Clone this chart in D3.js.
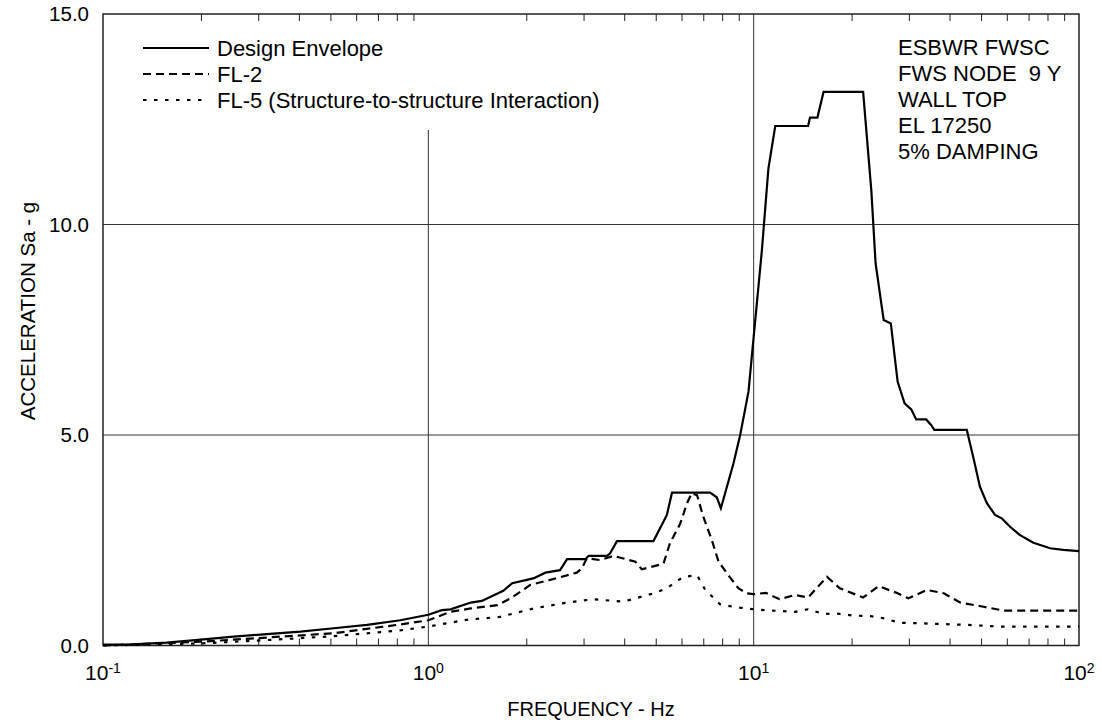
<!DOCTYPE html>
<html>
<head>
<meta charset="utf-8">
<script src="https://cdn.jsdelivr.net/npm/d3@7"></script>
<style>
  html, body { margin: 0; padding: 0; background: #fff; }
  svg { display: block; font-family: "Liberation Sans", Arial, sans-serif; }
</style>
</head>
<body>
<svg id="chart" width="1102" height="724"></svg>
<script>
// ---- Data ----
const envFreq = [0.1, 0.124, 0.157, 0.2, 0.252, 0.319, 0.404, 0.512, 0.648, 0.82, 1.0, 1.10, 1.17, 1.35, 1.46, 1.70, 1.81, 2.01, 2.11, 2.29, 2.54, 2.67, 3.04, 3.11, 3.54, 3.62, 3.80, 4.92, 5.28, 5.41, 5.61, 7.35, 7.7, 7.93, 8.67, 9.09, 9.64, 10.0, 10.6, 11.1, 11.65, 14.7, 14.9, 15.7, 16.4, 21.7, 23.0, 23.7, 24.6, 25.1, 26.4, 27.7, 29.1, 30.5, 31.6, 33.9, 35.1, 35.9, 45.2, 47.3, 49.6, 52.1, 55.2, 57.9, 61.4, 65.9, 72.4, 81.5, 89.5, 100];
const envVal  = [0.02, 0.03, 0.07, 0.14, 0.21, 0.27, 0.33, 0.41, 0.49, 0.60, 0.73, 0.84, 0.86, 1.02, 1.06, 1.30, 1.48, 1.56, 1.60, 1.73, 1.79, 2.05, 2.05, 2.13, 2.13, 2.19, 2.48, 2.48, 2.94, 3.10, 3.63, 3.63, 3.52, 3.26, 4.33, 5.0, 6.03, 7.33, 9.39, 11.33, 12.34, 12.34, 12.54, 12.54, 13.15, 13.15, 10.8, 9.08, 8.2, 7.73, 7.65, 6.27, 5.75, 5.61, 5.37, 5.37, 5.24, 5.12, 5.12, 4.48, 3.77, 3.38, 3.10, 3.02, 2.82, 2.62, 2.44, 2.31, 2.27, 2.24];

const fl2Freq = [0.1, 0.2, 0.32, 0.51, 0.82, 1.0, 1.17, 1.35, 1.63, 1.79, 2.06, 2.37, 2.86, 2.96, 3.07, 3.37, 3.71, 4.33, 4.53, 5.28, 5.53, 5.95, 6.24, 6.45, 6.7, 7.0, 7.44, 7.8, 8.36, 8.97, 9.5, 10.0, 10.9, 12.0, 13.4, 14.7, 16.8, 18.4, 21.7, 24.2, 27.5, 29.9, 34.1, 38.4, 43.1, 50.9, 58.5, 100];
const fl2Val  = [0.0, 0.09, 0.19, 0.29, 0.50, 0.60, 0.80, 0.88, 0.96, 1.12, 1.44, 1.56, 1.73, 1.83, 2.07, 2.03, 2.13, 1.99, 1.81, 1.94, 2.43, 2.90, 3.38, 3.62, 3.57, 3.06, 2.50, 1.99, 1.67, 1.36, 1.24, 1.22, 1.25, 1.10, 1.20, 1.14, 1.63, 1.36, 1.14, 1.41, 1.25, 1.12, 1.32, 1.24, 1.02, 0.92, 0.83, 0.83];

const fl5Freq = [0.1, 0.2, 0.32, 0.51, 0.82, 1.0, 1.31, 1.66, 2.11, 2.67, 3.22, 3.97, 4.93, 5.41, 6.08, 6.7, 7.1, 7.88, 8.66, 9.7, 10.8, 12.0, 13.4, 14.7, 16.4, 18.0, 20.3, 22.8, 25.0, 28.1, 31.7, 45.2, 57.0, 100];
const fl5Val  = [0.0, 0.05, 0.13, 0.22, 0.36, 0.45, 0.61, 0.68, 0.88, 1.02, 1.10, 1.04, 1.24, 1.36, 1.63, 1.67, 1.32, 0.98, 0.92, 0.87, 0.84, 0.82, 0.80, 0.86, 0.75, 0.76, 0.71, 0.70, 0.65, 0.54, 0.53, 0.49, 0.45, 0.45];

const seriesNames = ["Design Envelope", "FL-2", "FL-5 (Structure-to-structure Interaction)"];
const yTicks = [0, 5, 10, 15];
const xDecades = [0.1, 1, 10, 100];
const xDecadeExp = ["-1", "0", "1", "2"];
const noteLines = ["ESBWR FWSC", "FWS NODE  9 Y", "WALL TOP", "EL 17250", "5% DAMPING"];

// ---- Layout ----
const L = 103, R = 1079, T = 14, B = 645.5;
const svg = d3.select("#chart");
const x = d3.scaleLog().domain([0.1, 100]).range([L, R]);
const y = d3.scaleLinear().domain([0, 15]).range([B, T]);

// gridlines
const grid = svg.append("g").attr("stroke", "#333").attr("stroke-width", 1);
[5, 10].forEach(v => grid.append("line").attr("x1", L).attr("x2", R).attr("y1", y(v)).attr("y2", y(v)));
grid.append("line").attr("x1", x(1)).attr("x2", x(1)).attr("y1", 130).attr("y2", B);
grid.append("line").attr("x1", x(10)).attr("x2", x(10)).attr("y1", T).attr("y2", B);

// minor ticks (inward) bottom and top
const minor = [];
[0.1, 1, 10].forEach(d => { for (let k = 2; k <= 9; k++) minor.push(d * k); });
svg.append("g").attr("transform", `translate(0,${B})`)
  .call(d3.axisBottom(x).tickValues(minor).tickSize(-7).tickFormat(""))
  .call(g => g.select(".domain").remove())
  .call(g => g.selectAll("line").attr("stroke", "#222").attr("stroke-width", 1));
svg.append("g").attr("transform", `translate(0,${T})`)
  .call(d3.axisTop(x).tickValues(minor).tickSize(-7).tickFormat(""))
  .call(g => g.select(".domain").remove())
  .call(g => g.selectAll("line").attr("stroke", "#222").attr("stroke-width", 1));

// y axis labels
svg.append("g").attr("transform", `translate(${L},0)`)
  .call(d3.axisLeft(y).tickValues(yTicks).tickSize(0).tickPadding(14).tickFormat(d3.format(".1f")))
  .call(g => g.select(".domain").remove())
  .call(g => g.selectAll("text").attr("font-size", 20.5).attr("fill", "#000")
    .attr("font-family", "'Liberation Sans', Arial, sans-serif"));

// x decade labels
const xl = svg.append("g");
xDecades.forEach((d, i) => {
  const t = xl.append("text").attr("x", x(d)).attr("y", 680)
    .attr("text-anchor", "middle").attr("font-size", 21).attr("fill", "#000");
  t.append("tspan").text("10");
  t.append("tspan").attr("dy", -7).attr("font-size", 14).text(xDecadeExp[i]);
});

// frame
svg.append("rect").attr("x", L).attr("y", T).attr("width", R - L).attr("height", B - T)
  .attr("fill", "none").attr("stroke", "#222").attr("stroke-width", 1.5);

// axis titles
svg.append("text").attr("x", (L + R) / 2).attr("y", 716).attr("text-anchor", "middle")
  .attr("font-size", 20).text("FREQUENCY - Hz");
svg.append("text").attr("transform", `translate(35,311) rotate(-90)`)
  .attr("text-anchor", "middle").attr("font-size", 20.5).text("ACCELERATION Sa - g");

// series
const line = d3.line().x(d => x(d[0])).y(d => y(d[1]));
const styles = [
  { dash: null, w: 2.2 },
  { dash: "8,5", w: 2.2 },
  { dash: "3.5,7.5", w: 2.2 }
];
const series = [
  d3.zip(envFreq, envVal),
  d3.zip(fl2Freq, fl2Val),
  d3.zip(fl5Freq, fl5Val)
];
series.forEach((s, i) => {
  svg.append("path").datum(s).attr("d", line)
    .attr("fill", "none").attr("stroke", "#000").attr("stroke-width", styles[i].w)
    .attr("stroke-dasharray", styles[i].dash).attr("stroke-linejoin", "miter");
});

// legend
const legY = [48, 74, 100];
seriesNames.forEach((n, i) => {
  svg.append("line").attr("x1", 143).attr("x2", 209).attr("y1", legY[i]).attr("y2", legY[i])
    .attr("stroke", "#000").attr("stroke-width", 2.2).attr("stroke-dasharray", styles[i].dash);
  svg.append("text").attr("x", 217).attr("y", legY[i]).attr("dy", "0.35em")
    .attr("font-size", 22).text(n);
});

// notes
noteLines.forEach((t, i) => {
  svg.append("text").attr("x", 898).attr("y", 47 + i * 26).attr("dy", "0.35em")
    .attr("font-size", 22).attr("xml:space", "preserve").style("white-space", "pre").text(t);
});
</script>
</body>
</html>
